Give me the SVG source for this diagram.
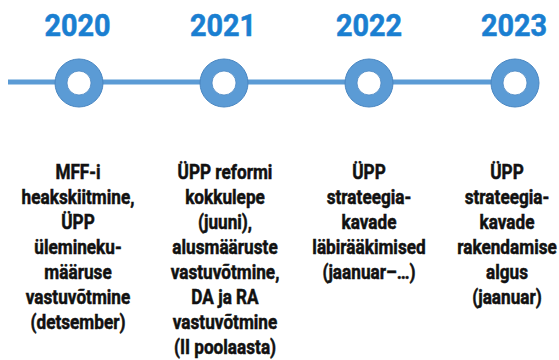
<svg xmlns="http://www.w3.org/2000/svg" width="559" height="360" viewBox="0 0 559 360">
<style>
.yr{font-family:Roboto,"Liberation Sans",sans-serif;font-weight:700;font-size:32px;fill:#1a7fd1;stroke:#1a7fd1;stroke-width:0.6px;text-anchor:middle}
.tx{font-family:Roboto,"Liberation Sans",sans-serif;font-weight:700;font-size:20px;fill:#111;stroke:#111;stroke-width:0.5px;text-anchor:middle}
.ring{fill:#5b9bd5;stroke:#4a87c2;stroke-width:1}
.hole{fill:#fff;stroke:#4a87c2;stroke-width:0.8}
</style>
<rect width="559" height="360" fill="#fff"/>
<g id="connectors">
<line x1="8" y1="82" x2="515" y2="82" stroke="#5b9bd5" stroke-width="5"/>
</g>
<g id="n2020">
<text class="yr" transform="translate(77.5,36) scale(0.9,1)">2020</text>
<circle class="ring" cx="79" cy="83" r="24"/><circle class="hole" cx="79" cy="83" r="12"/>
<g transform="translate(78,0) scale(0.86,1)">
<text class="tx" x="0" y="179.5">MFF-i</text>
<text class="tx" x="0" y="204.5">heakskiitmine,</text>
<text class="tx" x="0" y="229.5">ÜPP</text>
<text class="tx" x="0" y="254.5">ülemineku-</text>
<text class="tx" x="0" y="279.5">määruse</text>
<text class="tx" x="0" y="304.5">vastuvõtmine</text>
<text class="tx" x="0" y="329.5">(detsember)</text>
</g>
</g>
<g id="n2021">
<text class="yr" transform="translate(223,36) scale(0.9,1)">2021</text>
<circle class="ring" cx="224" cy="83" r="24"/><circle class="hole" cx="224" cy="83" r="12"/>
<g transform="translate(225,0) scale(0.86,1)">
<text class="tx" x="0" y="179.5">ÜPP reformi</text>
<text class="tx" x="0" y="204.5">kokkulepe</text>
<text class="tx" x="0" y="229.5">(juuni),</text>
<text class="tx" x="0" y="254.5">alusmääruste</text>
<text class="tx" x="0" y="279.5">vastuvõtmine,</text>
<text class="tx" x="0" y="304.5">DA ja RA</text>
<text class="tx" x="0" y="329.5">vastuvõtmine</text>
<text class="tx" x="0" y="354.5">(II poolaasta)</text>
</g>
</g>
<g id="n2022">
<text class="yr" transform="translate(369,36) scale(0.9,1)">2022</text>
<circle class="ring" cx="369" cy="83" r="24"/><circle class="hole" cx="369" cy="83" r="12"/>
<g transform="translate(369,0) scale(0.86,1)">
<text class="tx" x="0" y="179.5">ÜPP</text>
<text class="tx" x="0" y="204.5">strateegia-</text>
<text class="tx" x="0" y="229.5">kavade</text>
<text class="tx" x="0" y="254.5">läbirääkimised</text>
<text class="tx" x="0" y="279.5">(jaanuar–…)</text>
</g>
</g>
<g id="n2023">
<text class="yr" transform="translate(514,36) scale(0.9,1)">2023</text>
<circle class="ring" cx="515" cy="83" r="24"/><circle class="hole" cx="515" cy="83" r="12"/>
<g transform="translate(507,0) scale(0.86,1)">
<text class="tx" x="0" y="179.5">ÜPP</text>
<text class="tx" x="0" y="204.5">strateegia-</text>
<text class="tx" x="0" y="229.5">kavade</text>
<text class="tx" x="0" y="254.5">rakendamise</text>
<text class="tx" x="0" y="279.5">algus</text>
<text class="tx" x="0" y="304.5">(jaanuar)</text>
</g>
</g>
</svg>
